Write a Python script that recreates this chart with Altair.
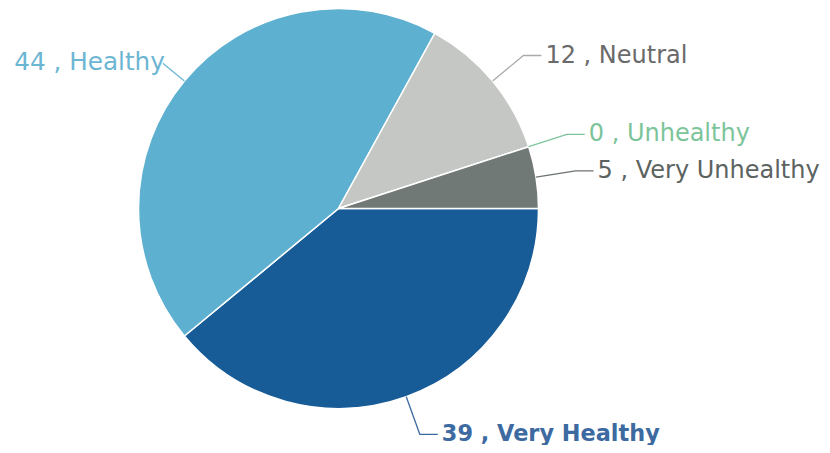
import math
import altair as alt
import pandas as pd

# ---- data ----
categories = ["Very Healthy", "Healthy", "Neutral", "Unhealthy", "Very Unhealthy"]
values = [39, 44, 12, 0, 5]

# ---- styles ----
slice_colors = ["#175b97", "#5eb0d0", "#c5c7c4", "#8ccaa2", "#717976"]
label_colors = ["#3d6aa0", "#6cb6d3", "#6a6a6a", "#7cc49a", "#5c6361"]
leader_colors = ["#3d6aa0", "#6cb6d3", "#a9abaa", "#7cc49a", "#6c7371"]

W, H = 814, 437          # drawing area
PX = 200.0               # pixels per unit (pie radius = 1 unit)
CX, CY = 330.5, 200.5    # pie centre inside drawing area
START = math.pi / 2      # first slice starts at 3 o'clock
R_OUT_RIGHT = 1.2        # leader line radial end (units)
R_OUT_LEFT = 1.14
H_SEG = 0.09             # horizontal leader segment (units)
GAP = 0.02

xdom = [-CX / PX, (W - CX) / PX]
ydom = [-(H - CY) / PX, CY / PX]

total = sum(values)
pie_df = pd.DataFrame({"category": categories, "value": values, "idx": range(len(values))})

line_rows, text_rows = [], []
cum = 0
for i, (c, v) in enumerate(zip(categories, values)):
    mid = START + 2 * math.pi * (cum + v / 2) / total
    cum += v
    sx, sy = math.sin(mid), math.cos(mid)
    right = sx >= 0
    r = R_OUT_RIGHT if right else R_OUT_LEFT
    h = H_SEG if right else 0.0
    p = [(sx, sy), (sx * r, sy * r), (sx * r + h, sy * r)]
    for k, (px, py) in enumerate(p):
        line_rows.append({"category": c, "k": k, "x": px, "y": py})
    tx = p[2][0] + (GAP if right else 0.01)
    text_rows.append({"category": c, "x": tx, "y": p[2][1],
                      "label": f"{v} , {c}", "side": "right" if right else "left"})

line_df = pd.DataFrame(line_rows)
text_df = pd.DataFrame(text_rows)

xs = alt.Scale(domain=xdom, nice=False, zero=False)
ys = alt.Scale(domain=ydom, nice=False, zero=False)
slice_color = alt.Color("category:N", scale=alt.Scale(domain=categories, range=slice_colors), legend=None)
lab_color = alt.Color("category:N", scale=alt.Scale(domain=categories, range=label_colors), legend=None)
lead_color = alt.Color("category:N", scale=alt.Scale(domain=categories, range=leader_colors), legend=None)

pie = alt.Chart(pie_df).mark_arc(outerRadius=PX, stroke="white", strokeWidth=1.5).encode(
    x=alt.XDatum(0, type="quantitative", scale=xs, axis=None),
    y=alt.YDatum(0, type="quantitative", scale=ys, axis=None),
    theta=alt.Theta("value:Q", stack=True,
                    scale=alt.Scale(range=[START, START + 2 * math.pi])),
    order=alt.Order("idx:Q"),
    color=slice_color,
)

lines = alt.Chart(line_df).mark_line(strokeWidth=1.3).encode(
    x=alt.X("x:Q", scale=xs, axis=None),
    y=alt.Y("y:Q", scale=ys, axis=None),
    detail="category:N",
    order="k:Q",
    color=lead_color,
)

base_text = alt.Chart(text_df).encode(
    x=alt.X("x:Q", scale=xs, axis=None),
    y=alt.Y("y:Q", scale=ys, axis=None),
    text="label:N",
    color=lab_color,
)

txt_right = base_text.mark_text(align="left", baseline="middle", fontSize=24,
                                font="DejaVu Sans").transform_filter(
    (alt.datum.side == "right") & (alt.datum.category != "Very Healthy"))
txt_left = base_text.mark_text(align="right", baseline="middle", fontSize=24.7,
                               font="DejaVu Sans").transform_filter(alt.datum.side == "left")
txt_bold = base_text.mark_text(align="left", baseline="middle", fontSize=22.4, fontWeight="bold",
                               font="DejaVu Sans").transform_filter(alt.datum.category == "Very Healthy")

chart = alt.layer(pie, lines, txt_right, txt_left, txt_bold).resolve_scale(
    color="independent"
).properties(width=W, height=H, padding=0, autosize="none").configure_view(stroke=None)

chart.save("out.html", embed_options={"renderer": "svg", "actions": False})
